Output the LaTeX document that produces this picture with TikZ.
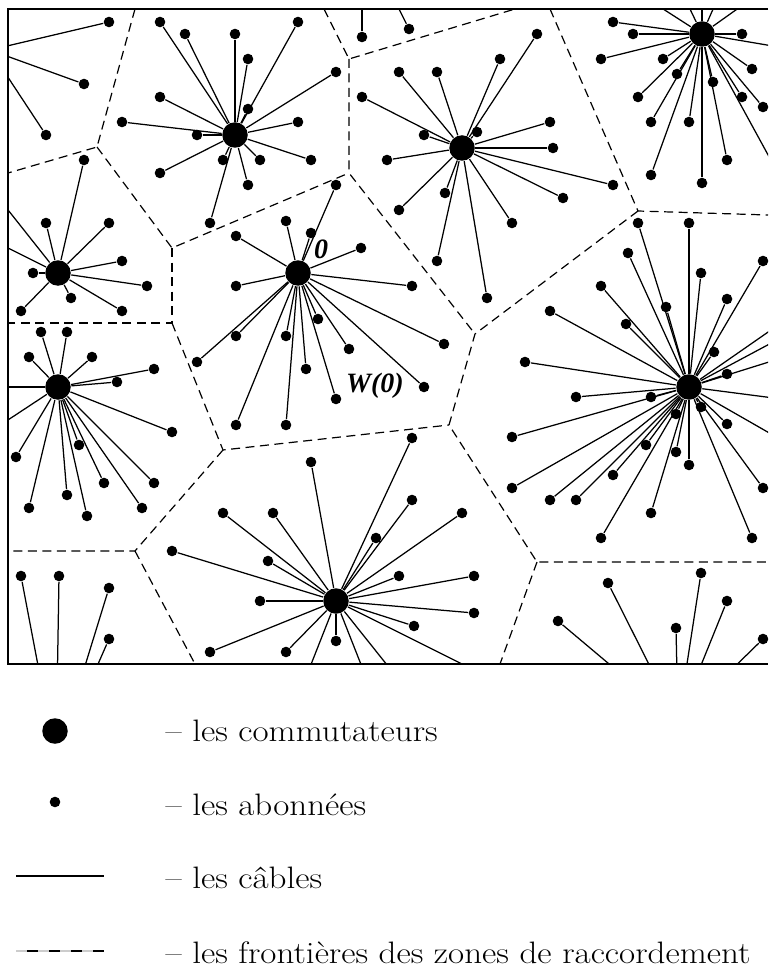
\documentclass[tikz,border=0pt]{standalone}
\usepackage{fontspec}
\newfontfamily\labelfont{Liberation Serif}
\newcommand{\legendtext}[1]{\scalebox{1.13}[1]{\fontsize{31}{36}\selectfont #1}}
\tikzset{
  hub/.style={circle, fill, inner sep=0pt, minimum size=25.5pt},
  sub/.style={circle, fill, inner sep=0pt, minimum size=10.6pt},
  zone/.style={dash pattern=on 9pt off 5.5pt, line width=1.2pt},
}
\begin{document}
\begin{tikzpicture}[x=1pt, y=-1pt, line width=1.25pt]
\useasboundingbox (0,0) rectangle (768,968);

\begin{scope}
\clip (8,9) rectangle (768,664);

\coordinate (P) at (-10,50);
\coordinate (N) at (362,-65);
\coordinate (S) at (56,760);
\coordinate (R) at (678,722);

\node (A) at (235,135) [hub] {};
\node (B) at (58,273) [hub] {};
\node (C) at (462,148) [hub] {};
\node (D) at (702,34) [hub] {};
\node (E) at (58,387) [hub] {};
\node (F) at (298,273) [hub] {};
\node (G) at (336,601) [hub] {};
\node (H) at (689,387) [hub] {};

\node (p1) at (109,22) [sub] {};
\node (p2) at (84,84) [sub] {};
\node (p3) at (46,135) [sub] {};
\draw (P) -- (p1);
\draw (P) -- (p2);
\draw (P) -- (p3);

\node (n1) at (362,37) [sub] {};
\node (n2) at (409,29) [sub] {};
\draw (N) -- (n1);
\draw (N) -- (n2);

\node (s1) at (21,576) [sub] {};
\node (s2) at (59,576) [sub] {};
\node (s3) at (109,588) [sub] {};
\node (s4) at (109,639) [sub] {};
\draw (S) -- (s1);
\draw (S) -- (s2);
\draw (S) -- (s3);
\draw (S) -- (s4);

\node (r1) at (608,583) [sub] {};
\node (r2) at (558,621) [sub] {};
\node (r3) at (676,628) [sub] {};
\node (r4) at (701,573) [sub] {};
\node (r5) at (727,601) [sub] {};
\node (r6) at (763,639) [sub] {};
\draw (R) -- (r1);
\draw (R) -- (r2);
\draw (R) -- (r3);
\draw (R) -- (r4);
\draw (R) -- (r5);
\draw (R) -- (r6);

\node (a1) at (160,22) [sub] {};
\node (a2) at (185,34) [sub] {};
\node (a3) at (235,34) [sub] {};
\node (a4) at (248,59) [sub] {};
\node (a5) at (298,22) [sub] {};
\node (a6) at (336,72) [sub] {};
\node (a7) at (248,109) [sub] {};
\node (a8) at (160,97) [sub] {};
\node (a9) at (122,122) [sub] {};
\node (a10) at (197,135) [sub] {};
\node (a11) at (298,122) [sub] {};
\node (a12) at (311,160) [sub] {};
\node (a13) at (260,160) [sub] {};
\node (a14) at (248,185) [sub] {};
\node (a15) at (223,160) [sub] {};
\node (a16) at (210,223) [sub] {};
\node (a17) at (160,173) [sub] {};
\draw (A) -- (a1);
\draw (A) -- (a2);
\draw (A) -- (a3);
\draw (A) -- (a4);
\draw (A) -- (a5);
\draw (A) -- (a6);
\draw (A) -- (a7);
\draw (A) -- (a8);
\draw (A) -- (a9);
\draw (A) -- (a10);
\draw (A) -- (a11);
\draw (A) -- (a12);
\draw (A) -- (a13);
\draw (A) -- (a14);
\draw (A) -- (a15);
\draw (A) -- (a16);
\draw (A) -- (a17);

\node (b1) at (84,160) [sub] {};
\node (b2) at (46,223) [sub] {};
\node (b3) at (109,223) [sub] {};
\node (b4) at (122,261) [sub] {};
\node (b5) at (147,286) [sub] {};
\node (b6) at (122,311) [sub] {};
\node (b7) at (71,298) [sub] {};
\node (b8) at (33,273) [sub] {};
\node (b9) at (21,311) [sub] {};
\coordinate (bx1) at (-30,162);
\coordinate (bx2) at (-30,229);
\draw (B) -- (b1);
\draw (B) -- (b2);
\draw (B) -- (b3);
\draw (B) -- (b4);
\draw (B) -- (b5);
\draw (B) -- (b6);
\draw (B) -- (b7);
\draw (B) -- (b8);
\draw (B) -- (b9);
\draw (B) -- (bx1);
\draw (B) -- (bx2);

\node (c1) at (399,72) [sub] {};
\node (c2) at (437,72) [sub] {};
\node (c3) at (500,59) [sub] {};
\node (c4) at (537,34) [sub] {};
\node (c5) at (362,97) [sub] {};
\node (c6) at (424,135) [sub] {};
\node (c7) at (477,132) [sub] {};
\node (c8) at (387,160) [sub] {};
\node (c9) at (445,193) [sub] {};
\node (c10) at (399,210) [sub] {};
\node (c11) at (437,261) [sub] {};
\node (c12) at (487,298) [sub] {};
\node (c13) at (512,223) [sub] {};
\node (c14) at (563,198) [sub] {};
\node (c15) at (613,185) [sub] {};
\node (c16) at (553,148) [sub] {};
\node (c17) at (550,122) [sub] {};
\draw (C) -- (c1);
\draw (C) -- (c2);
\draw (C) -- (c3);
\draw (C) -- (c4);
\draw (C) -- (c5);
\draw (C) -- (c6);
\draw (C) -- (c7);
\draw (C) -- (c8);
\draw (C) -- (c9);
\draw (C) -- (c10);
\draw (C) -- (c11);
\draw (C) -- (c12);
\draw (C) -- (c13);
\draw (C) -- (c14);
\draw (C) -- (c15);
\draw (C) -- (c16);
\draw (C) -- (c17);

\node (d1) at (613,22) [sub] {};
\node (d2) at (633,34) [sub] {};
\node (d3) at (742,34) [sub] {};
\node (d4) at (601,59) [sub] {};
\node (d5) at (663,59) [sub] {};
\node (d6) at (677,74) [sub] {};
\node (d7) at (752,69) [sub] {};
\node (d8) at (713,82) [sub] {};
\node (d9) at (638,97) [sub] {};
\node (d10) at (742,97) [sub] {};
\node (d11) at (763,107) [sub] {};
\node (d12) at (651,122) [sub] {};
\node (d13) at (689,122) [sub] {};
\node (d14) at (727,160) [sub] {};
\node (d15) at (651,175) [sub] {};
\node (d16) at (702,183) [sub] {};
\coordinate (dx1) at (618,-20);
\coordinate (dx2) at (676,-20);
\coordinate (dx3) at (702,-20);
\coordinate (dx4) at (726,-20);
\coordinate (dx5) at (778,-20);
\coordinate (dx6) at (820,54);
\coordinate (dx7) at (820,250);
\draw (D) -- (d1);
\draw (D) -- (d2);
\draw (D) -- (d3);
\draw (D) -- (d4);
\draw (D) -- (d5);
\draw (D) -- (d6);
\draw (D) -- (d7);
\draw (D) -- (d8);
\draw (D) -- (d9);
\draw (D) -- (d10);
\draw (D) -- (d11);
\draw (D) -- (d12);
\draw (D) -- (d13);
\draw (D) -- (d14);
\draw (D) -- (d15);
\draw (D) -- (d16);
\draw (D) -- (dx1);
\draw (D) -- (dx2);
\draw (D) -- (dx3);
\draw (D) -- (dx4);
\draw (D) -- (dx5);
\draw (D) -- (dx6);
\draw (D) -- (dx7);

\node (e1) at (41,332) [sub] {};
\node (e2) at (67,332) [sub] {};
\node (e3) at (29,357) [sub] {};
\node (e4) at (92,357) [sub] {};
\node (e5) at (154,369) [sub] {};
\node (e6) at (117,382) [sub] {};
\node (e7) at (172,432) [sub] {};
\node (e8) at (16,457) [sub] {};
\node (e9) at (79,445) [sub] {};
\node (e10) at (104,483) [sub] {};
\node (e11) at (154,483) [sub] {};
\node (e12) at (67,495) [sub] {};
\node (e13) at (29,508) [sub] {};
\node (e14) at (87,516) [sub] {};
\node (e15) at (142,508) [sub] {};
\coordinate (ex1) at (-30,387);
\coordinate (ex2) at (-30,445);
\draw (E) -- (e1);
\draw (E) -- (e2);
\draw (E) -- (e3);
\draw (E) -- (e4);
\draw (E) -- (e5);
\draw (E) -- (e6);
\draw (E) -- (e7);
\draw (E) -- (e8);
\draw (E) -- (e9);
\draw (E) -- (e10);
\draw (E) -- (e11);
\draw (E) -- (e12);
\draw (E) -- (e13);
\draw (E) -- (e14);
\draw (E) -- (e15);
\draw (E) -- (ex1);
\draw (E) -- (ex2);

\node (f1) at (336,185) [sub] {};
\node (f2) at (286,221) [sub] {};
\node (f3) at (311,233) [sub] {};
\node (f4) at (236,236) [sub] {};
\node (f5) at (361,248) [sub] {};
\node (f6) at (236,286) [sub] {};
\node (f7) at (412,286) [sub] {};
\node (f8) at (236,336) [sub] {};
\node (f9) at (197,362) [sub] {};
\node (f10) at (286,336) [sub] {};
\node (f11) at (318,319) [sub] {};
\node (f12) at (349,349) [sub] {};
\node (f13) at (306,369) [sub] {};
\node (f14) at (444,344) [sub] {};
\node (f15) at (424,387) [sub] {};
\node (f16) at (336,399) [sub] {};
\node (f17) at (236,425) [sub] {};
\node (f18) at (286,425) [sub] {};
\draw (F) -- (f1);
\draw (F) -- (f2);
\draw (F) -- (f3);
\draw (F) -- (f4);
\draw (F) -- (f5);
\draw (F) -- (f6);
\draw (F) -- (f7);
\draw (F) -- (f8);
\draw (F) -- (f9);
\draw (F) -- (f10);
\draw (F) -- (f11);
\draw (F) -- (f12);
\draw (F) -- (f13);
\draw (F) -- (f14);
\draw (F) -- (f15);
\draw (F) -- (f16);
\draw (F) -- (f17);
\draw (F) -- (f18);

\node (g1) at (311,462) [sub] {};
\node (g2) at (412,438) [sub] {};
\node (g3) at (273,513) [sub] {};
\node (g4) at (412,500) [sub] {};
\node (g5) at (462,513) [sub] {};
\node (g6) at (376,538) [sub] {};
\node (g7) at (268,561) [sub] {};
\node (g8) at (399,576) [sub] {};
\node (g9) at (474,576) [sub] {};
\node (g10) at (260,601) [sub] {};
\node (g11) at (474,613) [sub] {};
\node (g12) at (414,626) [sub] {};
\node (g13) at (336,641) [sub] {};
\node (g14) at (286,652) [sub] {};
\node (g15) at (223,513) [sub] {};
\node (g16) at (172,551) [sub] {};
\node (g17) at (210,652) [sub] {};
\coordinate (gx1) at (297,700);
\coordinate (gx2) at (375,700);
\coordinate (gx3) at (415,700);
\coordinate (gx4) at (534,700);
\draw (G) -- (g1);
\draw (G) -- (g2);
\draw (G) -- (g3);
\draw (G) -- (g4);
\draw (G) -- (g5);
\draw (G) -- (g6);
\draw (G) -- (g7);
\draw (G) -- (g8);
\draw (G) -- (g9);
\draw (G) -- (g10);
\draw (G) -- (g11);
\draw (G) -- (g12);
\draw (G) -- (g13);
\draw (G) -- (g14);
\draw (G) -- (g15);
\draw (G) -- (g16);
\draw (G) -- (g17);
\draw (G) -- (gx1);
\draw (G) -- (gx2);
\draw (G) -- (gx3);
\draw (G) -- (gx4);

\node (h1) at (638,223) [sub] {};
\node (h2) at (689,223) [sub] {};
\node (h3) at (628,253) [sub] {};
\node (h4) at (701,273) [sub] {};
\node (h5) at (763,261) [sub] {};
\node (h6) at (601,286) [sub] {};
\node (h7) at (727,299) [sub] {};
\node (h8) at (666,307) [sub] {};
\node (h9) at (550,311) [sub] {};
\node (h10) at (626,324) [sub] {};
\node (h11) at (714,352) [sub] {};
\node (h12) at (727,374) [sub] {};
\node (h13) at (525,362) [sub] {};
\node (h14) at (576,397) [sub] {};
\node (h15) at (651,397) [sub] {};
\node (h16) at (512,437) [sub] {};
\node (h17) at (512,488) [sub] {};
\node (h18) at (550,500) [sub] {};
\node (h19) at (576,500) [sub] {};
\node (h20) at (613,475) [sub] {};
\node (h21) at (646,445) [sub] {};
\node (h22) at (676,414) [sub] {};
\node (h23) at (676,452) [sub] {};
\node (h24) at (689,465) [sub] {};
\node (h25) at (701,407) [sub] {};
\node (h26) at (727,424) [sub] {};
\node (h27) at (651,513) [sub] {};
\node (h28) at (601,538) [sub] {};
\node (h29) at (752,538) [sub] {};
\node (h30) at (763,488) [sub] {};
\coordinate (hx1) at (820,296);
\coordinate (hx2) at (820,317);
\coordinate (hx3) at (820,346);
\coordinate (hx4) at (820,404);
\coordinate (hx5) at (820,462);
\draw (H) -- (h1);
\draw (H) -- (h2);
\draw (H) -- (h3);
\draw (H) -- (h4);
\draw (H) -- (h5);
\draw (H) -- (h6);
\draw (H) -- (h7);
\draw (H) -- (h8);
\draw (H) -- (h9);
\draw (H) -- (h10);
\draw (H) -- (h11);
\draw (H) -- (h12);
\draw (H) -- (h13);
\draw (H) -- (h14);
\draw (H) -- (h15);
\draw (H) -- (h16);
\draw (H) -- (h17);
\draw (H) -- (h18);
\draw (H) -- (h19);
\draw (H) -- (h20);
\draw (H) -- (h21);
\draw (H) -- (h22);
\draw (H) -- (h23);
\draw (H) -- (h24);
\draw (H) -- (h25);
\draw (H) -- (h26);
\draw (H) -- (h27);
\draw (H) -- (h28);
\draw (H) -- (h29);
\draw (H) -- (h30);
\draw (H) -- (hx1);
\draw (H) -- (hx2);
\draw (H) -- (hx3);
\draw (H) -- (hx4);
\draw (H) -- (hx5);

\coordinate (J1) at (97,147);
\coordinate (J2) at (172,248);
\coordinate (J3) at (172,323);
\coordinate (J4) at (223,450);
\coordinate (J5) at (135,551);
\coordinate (J6) at (349,59);
\coordinate (J7) at (349,173);
\coordinate (J8) at (475,334);
\coordinate (J9) at (638,211);
\coordinate (J10) at (449,425);
\coordinate (J11) at (537,562);

\draw [zone] (135,9) -- (J1) -- (8,173);
\draw [zone] (J1) -- (J2) -- (J7);
\draw [zone] (J2) -- (J3) -- (8,323);
\draw [zone] (J3) -- (J4) -- (J10);
\draw [zone] (J4) -- (J5) -- (8,551);
\draw [zone] (J5) -- (195,664);
\draw [zone] (324,9) -- (J6) -- (515,9);
\draw [zone] (J6) -- (J7) -- (J8);
\draw [zone] (550,9) -- (J9) -- (768,215);
\draw [zone] (J9) -- (J8) -- (J10) -- (J11) -- (768,562);
\draw [zone] (J11) -- (500,664);
\end{scope}

\draw (768,9) -- (8,9) -- (8,664) -- (768,664);

\node (zero) at (321,249) {\fontsize{28}{32}\labelfont\bfseries\itshape 0};
\node (wzero) at (375,386) {\fontsize{28}{32}\labelfont\bfseries\itshape W(0)};

\node (Lhub) at (55,731) [hub] {};
\node (Lsub) at (55,802) [sub] {};
\coordinate (Lc1) at (16,876);
\coordinate (Lc2) at (104,876);
\coordinate (Lz1) at (16,951);
\coordinate (Lz2) at (104,951);
\draw [line width=1.6pt] (Lc1) -- (Lc2);
\draw [line width=1.2pt] (Lz1) -- (Lz2);
\draw [line width=1.6pt, gray!40, dash pattern=on 11pt off 11pt] (Lz1) -- (Lz2);

\node (T1) at (165,741) [anchor=base west, inner sep=0pt] {\legendtext{-- les commutateurs}};
\node (T2) at (165,815) [anchor=base west, inner sep=0pt] {\legendtext{-- les abonnées}};
\node (T3) at (165,888) [anchor=base west, inner sep=0pt] {\legendtext{-- les câbles}};
\node (T4) at (165,963) [anchor=base west, inner sep=0pt] {\legendtext{-- les frontières des zones de raccordement}};

\end{tikzpicture}
\end{document}
